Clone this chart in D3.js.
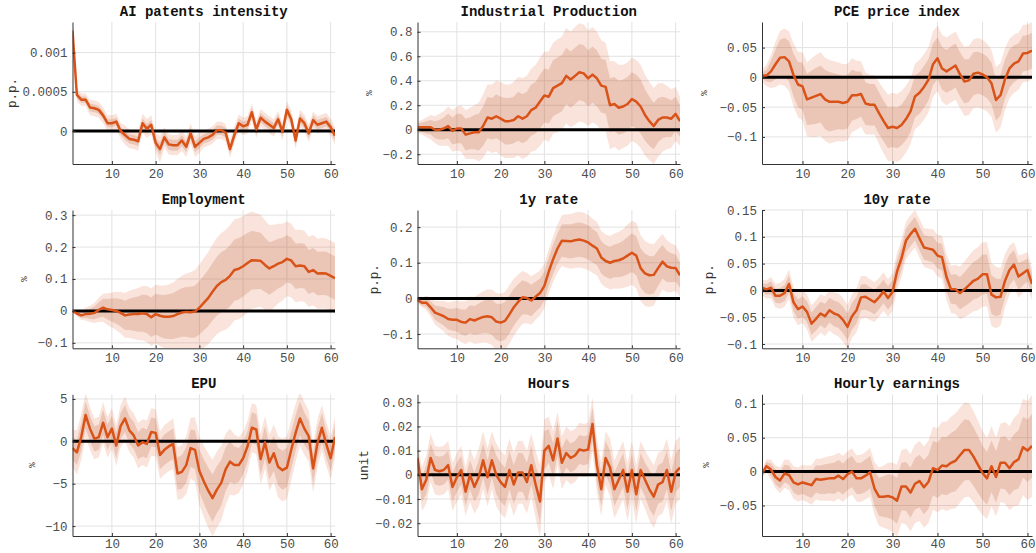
<!DOCTYPE html>
<html lang="en">
<head>
<meta charset="UTF-8">
<title>Impulse responses</title>
<script src="https://cdn.jsdelivr.net/npm/d3@7"></script>
<style>
  body { margin: 0; background: #fff; }
  svg { display: block; }
  .tick text { font-family: "Liberation Mono", "Courier New", monospace; font-size: 12.5px; fill: #4d4d4d; }
  .tick line { stroke: #333; }
  .domain { stroke: #333; }
  .title { font-family: "Liberation Mono", "Courier New", monospace; font-weight: bold; font-size: 14px; fill: #111; }
  .ylab { font-family: "Liberation Mono", "Courier New", monospace; fill: #333; }
</style>
</head>
<body>
<svg id="chart" width="1036" height="553"></svg>
<script>
// horizons (months after the shock)
const horizons = d3.range(1, 62);

const titles = ["AI patents intensity", "Industrial Production", "PCE price index",
                "Employment", "1y rate", "10y rate",
                "EPU", "Hours", "Hourly earnings"];
const units = ["p.p.", "%", "%", "%", "p.p.", "p.p.", "%", "unit", "%"];

// point estimates
const irfAI = [0.00128,0.00046,0.00040,0.00040,0.00030,0.00029,0.00027,0.00020,0.00010,0.00010,
  0.00012,0.00000,-0.00005,-0.00010,-0.00011,-0.00013,0.00010,0.00003,0.00008,-0.00015,
  -0.00023,-0.00008,-0.00017,-0.00018,-0.00018,-0.00012,-0.00020,-0.00003,-0.00020,-0.00015,
  -0.00010,-0.00008,-0.00005,0.00001,0.00001,-0.00002,-0.00023,-0.00005,0.00010,0.00006,
  0.00008,0.00024,0.00002,0.00017,0.00012,0.00008,0.00004,0.00015,-0.00001,0.00027,
  0.00015,-0.00012,0.00016,0.00010,-0.00003,0.00014,0.00008,0.00010,0.00012,0.00005,-0.00006];
const irfIP = [0.02,0.02,0.02,0.02,0.00,0.00,0.01,0.03,-0.01,0.01,
  0.01,-0.04,-0.03,-0.02,-0.02,0.03,0.10,0.09,0.11,0.09,
  0.07,0.07,0.08,0.11,0.09,0.11,0.16,0.18,0.23,0.28,
  0.27,0.34,0.36,0.38,0.44,0.41,0.44,0.47,0.46,0.42,
  0.45,0.42,0.36,0.35,0.20,0.21,0.18,0.19,0.21,0.25,
  0.23,0.19,0.12,0.07,0.03,0.08,0.10,0.10,0.09,0.13,0.07];
const irfPCE = [0.003,0.003,0.010,0.022,0.033,0.034,0.027,0.004,-0.012,-0.015,
  -0.037,-0.034,-0.031,-0.028,-0.037,-0.041,-0.041,-0.041,-0.043,-0.041,
  -0.030,-0.030,-0.028,-0.044,-0.046,-0.046,-0.060,-0.073,-0.085,-0.083,
  -0.085,-0.080,-0.070,-0.057,-0.032,-0.026,-0.016,-0.004,0.022,0.032,
  0.015,0.010,0.015,0.020,0.005,-0.007,-0.005,0.006,0.008,0.005,
  0.000,-0.010,-0.038,-0.030,-0.003,0.015,0.023,0.027,0.040,0.041,0.045];
const irfEMP = [0.000,-0.008,-0.014,-0.010,-0.009,-0.006,0.003,0.010,0.005,0.003,
  0.000,-0.006,-0.014,-0.011,-0.010,-0.010,-0.007,-0.010,-0.020,-0.010,
  -0.015,-0.018,-0.018,-0.016,-0.010,-0.005,-0.003,-0.004,-0.002,0.010,
  0.025,0.040,0.060,0.078,0.090,0.097,0.110,0.128,0.132,0.140,
  0.150,0.159,0.158,0.157,0.144,0.133,0.140,0.148,0.153,0.163,
  0.158,0.140,0.142,0.140,0.122,0.128,0.117,0.118,0.117,0.110,0.103];
const irf1Y = [-0.005,-0.012,-0.012,-0.025,-0.040,-0.045,-0.050,-0.058,-0.060,-0.060,
  -0.066,-0.068,-0.058,-0.062,-0.057,-0.052,-0.050,-0.053,-0.065,-0.068,
  -0.063,-0.045,-0.025,-0.010,0.003,0.001,-0.006,0.005,0.015,0.035,
  0.075,0.110,0.140,0.162,0.161,0.160,0.163,0.165,0.162,0.157,
  0.148,0.140,0.115,0.105,0.100,0.105,0.107,0.112,0.120,0.128,
  0.120,0.085,0.070,0.065,0.066,0.085,0.103,0.090,0.086,0.085,0.065];
const irf10Y = [0.005,0.002,0.005,-0.010,-0.010,-0.005,0.012,-0.022,-0.035,-0.030,
  -0.040,-0.062,-0.053,-0.043,-0.048,-0.037,-0.043,-0.046,-0.055,-0.068,
  -0.048,-0.037,-0.013,-0.012,-0.017,-0.022,-0.013,-0.002,-0.014,-0.003,
  0.035,0.060,0.093,0.105,0.115,0.097,0.080,0.078,0.076,0.065,
  0.062,0.025,0.002,0.002,-0.005,0.002,0.010,0.018,0.022,0.030,
  0.030,-0.008,-0.013,-0.012,0.018,0.038,0.048,0.026,0.032,0.038,0.012];
const irfEPU = [-0.8,-1.3,0.5,3.1,1.5,0.3,0.5,2.2,0.5,1.5,
  -0.5,1.8,2.7,1.3,0.7,-0.5,-0.1,-0.3,1.1,1.0,
  -1.6,-1.0,-0.6,-0.3,-3.8,-3.6,-2.8,-0.8,-1.0,-3.5,
  -4.7,-5.8,-6.7,-5.7,-4.9,-3.3,-2.4,-2.8,-2.8,-2.0,
  -0.6,1.6,1.4,-2.1,-0.1,-2.5,-1.4,-3.0,-3.4,-3.1,
  -1.0,1.0,2.7,1.5,0.6,-3.2,-0.2,1.6,-0.3,-2.0,0.5];
const irfHRS = [0.007,-0.006,-0.002,0.007,0.002,0.0015,0.002,0.004,-0.005,-0.001,
  0.002,-0.007,0.000,-0.005,-0.001,0.006,-0.001,0.006,0.000,-0.003,
  -0.005,0.002,-0.004,0.001,0.001,-0.003,0.004,-0.004,-0.011,0.010,
  0.012,0.006,0.015,0.005,0.009,0.007,0.008,0.0105,0.010,0.0105,
  0.021,0.004,-0.006,0.007,0.003,-0.006,-0.002,0.002,-0.007,0.002,
  -0.008,0.002,-0.002,-0.006,-0.009,-0.004,-0.003,0.002,-0.007,0.001,0.003];
const irfHE = [-0.003,0.008,0.003,-0.008,-0.013,-0.003,-0.005,-0.016,-0.019,-0.016,
  -0.018,-0.020,-0.011,-0.012,-0.011,-0.010,-0.010,-0.006,-0.011,-0.004,
  0.000,-0.010,-0.010,-0.006,-0.001,-0.025,-0.037,-0.037,-0.036,-0.038,
  -0.043,-0.022,-0.022,-0.031,-0.018,-0.014,-0.023,-0.015,0.005,0.002,
  0.009,0.008,0.013,0.016,0.024,0.032,0.032,0.022,0.010,-0.002,
  -0.010,0.008,-0.008,0.013,0.013,0.005,0.014,0.018,0.036,0.031,0.038];

// half widths of the 68% bands
const w68AI = [0.00003,0.00004,0.00004,0.00004,0.00005,0.00005,0.00005,0.00005,0.00005,0.00005,
  0.00005,0.00005,0.00006,0.00006,0.00006,0.00006,0.00006,0.00006,0.00006,0.00006,
  0.00008,0.00007,0.00007,0.00007,0.00007,0.00007,0.00007,0.00007,0.00007,0.00007,
  0.00006,0.00006,0.00006,0.00006,0.00006,0.00006,0.00006,0.00006,0.00006,0.00006,
  0.00006,0.00006,0.00006,0.00006,0.00006,0.00006,0.00006,0.00006,0.00006,0.00006,
  0.00006,0.00006,0.00006,0.00006,0.00006,0.00006,0.00006,0.00006,0.00006,0.00006,0.00006];
const w68IP = [0.03,0.04,0.05,0.06,0.07,0.08,0.09,0.10,0.11,0.12,
  0.12,0.13,0.13,0.14,0.15,0.16,0.17,0.17,0.18,0.18,
  0.19,0.19,0.19,0.20,0.20,0.20,0.21,0.21,0.22,0.22,
  0.22,0.23,0.23,0.23,0.23,0.23,0.23,0.23,0.23,0.23,
  0.23,0.23,0.22,0.22,0.22,0.22,0.22,0.22,0.22,0.22,
  0.22,0.22,0.21,0.20,0.19,0.18,0.17,0.16,0.15,0.14,0.13];
const w68PCE = [0.005,0.010,0.018,0.025,0.030,0.032,0.034,0.036,0.038,0.040,
  0.043,0.045,0.047,0.048,0.050,0.050,0.048,0.046,0.045,0.045,
  0.043,0.040,0.038,0.036,0.035,0.035,0.035,0.034,0.034,0.034,
  0.034,0.034,0.035,0.035,0.035,0.035,0.035,0.035,0.035,0.035,
  0.036,0.036,0.037,0.037,0.037,0.037,0.036,0.036,0.035,0.035,
  0.035,0.035,0.035,0.034,0.033,0.032,0.031,0.030,0.030,0.030,0.030];
const w68EMP = [0.002,0.005,0.008,0.012,0.016,0.020,0.024,0.028,0.032,0.036,
  0.040,0.043,0.046,0.049,0.052,0.055,0.058,0.060,0.062,0.064,
  0.066,0.068,0.070,0.072,0.074,0.076,0.078,0.080,0.082,0.084,
  0.086,0.088,0.090,0.092,0.094,0.095,0.096,0.096,0.096,0.095,
  0.094,0.092,0.090,0.088,0.085,0.082,0.080,0.078,0.076,0.074,
  0.072,0.071,0.070,0.070,0.069,0.069,0.068,0.068,0.068,0.068,0.068];
const w68_1Y = [0.004,0.008,0.012,0.016,0.020,0.023,0.026,0.029,0.031,0.033,
  0.035,0.037,0.039,0.041,0.043,0.045,0.047,0.049,0.051,0.052,
  0.053,0.053,0.052,0.050,0.048,0.046,0.044,0.042,0.041,0.040,
  0.040,0.041,0.043,0.045,0.047,0.048,0.048,0.048,0.048,0.048,
  0.047,0.046,0.045,0.045,0.045,0.046,0.048,0.050,0.052,0.054,
  0.055,0.055,0.055,0.054,0.052,0.050,0.047,0.044,0.041,0.038,0.035];
const w68_10Y = [0.008,0.010,0.012,0.013,0.014,0.015,0.016,0.017,0.018,0.019,
  0.020,0.021,0.022,0.022,0.023,0.023,0.024,0.024,0.025,0.025,
  0.025,0.025,0.024,0.024,0.023,0.023,0.022,0.022,0.022,0.022,
  0.022,0.022,0.022,0.022,0.022,0.022,0.023,0.023,0.024,0.024,
  0.025,0.026,0.027,0.028,0.030,0.032,0.034,0.035,0.036,0.037,
  0.037,0.036,0.035,0.033,0.031,0.029,0.027,0.025,0.023,0.021,0.019];
const w68EPU = [1.3,1.5,1.6,1.6,1.5,1.5,1.5,1.5,1.5,1.5,
  1.5,1.5,1.6,1.6,1.6,1.6,1.7,1.7,1.7,1.7,
  1.7,1.8,1.8,1.8,1.9,2.0,2.1,2.2,2.3,2.5,
  2.6,2.7,2.8,2.8,2.7,2.6,2.4,2.2,2.0,1.9,
  1.8,1.8,1.8,1.8,1.9,2.0,2.1,2.2,2.3,2.3,
  2.2,2.1,2.0,1.9,1.8,1.8,1.7,1.7,1.6,1.6,1.5];
const w68HRS = [0.004,0.005,0.006,0.006,0.006,0.006,0.006,0.006,0.006,0.006,
  0.006,0.006,0.006,0.006,0.007,0.007,0.007,0.007,0.008,0.008,
  0.008,0.008,0.008,0.008,0.008,0.008,0.008,0.008,0.009,0.008,
  0.007,0.007,0.007,0.006,0.006,0.006,0.006,0.006,0.006,0.006,
  0.007,0.007,0.007,0.007,0.007,0.007,0.007,0.007,0.007,0.007,
  0.007,0.007,0.007,0.008,0.008,0.008,0.008,0.008,0.008,0.008,0.008];
const w68HE = [0.003,0.006,0.009,0.011,0.012,0.013,0.014,0.015,0.016,0.017,
  0.018,0.019,0.020,0.021,0.022,0.022,0.023,0.023,0.023,0.023,
  0.023,0.023,0.023,0.024,0.024,0.026,0.028,0.030,0.032,0.033,
  0.034,0.035,0.036,0.037,0.038,0.039,0.040,0.040,0.040,0.041,
  0.042,0.043,0.044,0.045,0.045,0.045,0.044,0.043,0.042,0.040,
  0.039,0.038,0.038,0.038,0.039,0.040,0.041,0.043,0.045,0.046,0.047];

// half widths of the 90% bands
const w90AI = [0.00006,0.00008,0.00008,0.00008,0.00010,0.00010,0.00010,0.00010,0.00010,0.00010,
  0.00010,0.00010,0.00012,0.00012,0.00012,0.00012,0.00012,0.00012,0.00012,0.00012,
  0.00017,0.00013,0.00013,0.00013,0.00013,0.00013,0.00013,0.00013,0.00013,0.00013,
  0.00011,0.00011,0.00011,0.00011,0.00011,0.00011,0.00011,0.00011,0.00011,0.00011,
  0.00011,0.00011,0.00011,0.00011,0.00011,0.00011,0.00011,0.00011,0.00011,0.00011,
  0.00011,0.00011,0.00011,0.00011,0.00011,0.00011,0.00011,0.00011,0.00011,0.00011,0.00011];
const w90IP = [0.05,0.06,0.08,0.10,0.11,0.13,0.14,0.16,0.17,0.18,
  0.19,0.20,0.21,0.22,0.24,0.26,0.27,0.28,0.29,0.30,
  0.30,0.30,0.31,0.32,0.33,0.33,0.34,0.35,0.36,0.36,
  0.37,0.37,0.38,0.38,0.39,0.39,0.40,0.40,0.40,0.39,
  0.39,0.38,0.37,0.36,0.36,0.35,0.35,0.34,0.34,0.34,
  0.34,0.34,0.33,0.32,0.31,0.30,0.28,0.26,0.24,0.22,0.20];
const w90PCE = [0.010,0.018,0.028,0.038,0.045,0.048,0.050,0.053,0.055,0.057,
  0.062,0.066,0.069,0.070,0.070,0.070,0.068,0.066,0.065,0.064,
  0.062,0.058,0.055,0.052,0.050,0.050,0.052,0.054,0.056,0.057,
  0.057,0.057,0.056,0.055,0.055,0.055,0.055,0.055,0.055,0.055,
  0.056,0.057,0.057,0.057,0.057,0.058,0.058,0.058,0.058,0.058,
  0.057,0.056,0.055,0.054,0.052,0.050,0.049,0.048,0.048,0.048,0.048];
const w90EMP = [0.004,0.009,0.014,0.020,0.026,0.032,0.038,0.044,0.050,0.055,
  0.060,0.065,0.070,0.074,0.078,0.082,0.085,0.088,0.090,0.092,
  0.095,0.098,0.101,0.105,0.110,0.115,0.120,0.125,0.130,0.135,
  0.140,0.144,0.148,0.151,0.154,0.156,0.158,0.158,0.158,0.157,
  0.155,0.152,0.148,0.144,0.140,0.135,0.130,0.125,0.120,0.117,
  0.115,0.113,0.112,0.111,0.110,0.110,0.110,0.110,0.110,0.110,0.110];
const w90_1Y = [0.007,0.013,0.020,0.027,0.033,0.038,0.043,0.047,0.051,0.054,
  0.057,0.060,0.063,0.066,0.069,0.072,0.075,0.078,0.080,0.081,
  0.082,0.082,0.080,0.077,0.074,0.071,0.068,0.065,0.063,0.062,
  0.062,0.064,0.067,0.071,0.075,0.077,0.078,0.078,0.078,0.077,
  0.076,0.075,0.074,0.074,0.075,0.077,0.080,0.083,0.087,0.090,
  0.092,0.092,0.091,0.089,0.086,0.082,0.078,0.073,0.068,0.064,0.060];
const w90_10Y = [0.014,0.017,0.020,0.022,0.024,0.026,0.027,0.029,0.030,0.031,
  0.033,0.034,0.035,0.036,0.037,0.038,0.039,0.040,0.041,0.041,
  0.041,0.041,0.040,0.039,0.038,0.037,0.036,0.036,0.035,0.035,
  0.035,0.035,0.035,0.035,0.035,0.036,0.036,0.037,0.038,0.039,
  0.040,0.042,0.044,0.046,0.049,0.052,0.055,0.057,0.059,0.060,
  0.060,0.059,0.057,0.054,0.050,0.046,0.042,0.039,0.036,0.033,0.030];
const w90EPU = [2.2,2.6,2.7,2.6,2.5,2.4,2.4,2.4,2.4,2.4,
  2.4,2.5,2.6,2.6,2.6,2.7,2.7,2.8,2.8,2.8,
  2.8,2.9,2.9,3.0,3.1,3.2,3.4,3.6,3.8,4.0,
  4.2,4.4,4.5,4.5,4.4,4.2,3.9,3.6,3.3,3.1,
  3.0,2.9,2.9,3.0,3.1,3.3,3.4,3.6,3.7,3.7,
  3.6,3.4,3.2,3.1,3.0,2.9,2.8,2.7,2.6,2.5,2.4];
const w90HRS = [0.007,0.009,0.010,0.010,0.010,0.010,0.010,0.010,0.010,0.010,
  0.010,0.010,0.011,0.011,0.012,0.012,0.012,0.012,0.013,0.013,
  0.013,0.013,0.013,0.013,0.013,0.013,0.013,0.014,0.015,0.013,
  0.012,0.012,0.011,0.011,0.011,0.011,0.011,0.011,0.011,0.011,
  0.011,0.011,0.011,0.011,0.012,0.012,0.012,0.012,0.012,0.012,
  0.012,0.012,0.012,0.013,0.013,0.013,0.013,0.013,0.013,0.013,0.013];
const w90HE = [0.006,0.010,0.015,0.017,0.019,0.021,0.022,0.024,0.025,0.026,
  0.027,0.029,0.030,0.031,0.032,0.033,0.034,0.034,0.034,0.034,
  0.034,0.034,0.035,0.035,0.036,0.039,0.043,0.046,0.049,0.051,
  0.053,0.054,0.056,0.057,0.058,0.059,0.060,0.061,0.061,0.062,
  0.064,0.066,0.068,0.070,0.070,0.070,0.069,0.067,0.065,0.062,
  0.060,0.059,0.058,0.058,0.060,0.062,0.065,0.068,0.071,0.073,0.075];

// axis limits and tick values
const yLimits = [[-0.00042, 0.00139], [-0.28, 0.88], [-0.1455, 0.093],
                 [-0.117, 0.316], [-0.14, 0.248], [-0.108, 0.15],
                 [-11.17, 5.55], [-0.0253, 0.0333], [-0.095, 0.114]];
const yTicks = [[0, 0.0005, 0.001], [-0.2, 0, 0.2, 0.4, 0.6, 0.8], [-0.1, -0.05, 0, 0.05],
                [-0.1, 0, 0.1, 0.2, 0.3], [-0.1, 0, 0.1, 0.2], [-0.1, -0.05, 0, 0.05, 0.1, 0.15],
                [-10, -5, 0, 5], [-0.02, -0.01, 0, 0.01, 0.02, 0.03], [-0.05, 0, 0.05, 0.1]];
const xTicks = [10, 20, 30, 40, 50, 60];

const irfs = [irfAI, irfIP, irfPCE, irfEMP, irf1Y, irf10Y, irfEPU, irfHRS, irfHE];
const w68s = [w68AI, w68IP, w68PCE, w68EMP, w68_1Y, w68_10Y, w68EPU, w68HRS, w68HE];
const w90s = [w90AI, w90IP, w90PCE, w90EMP, w90_1Y, w90_10Y, w90EPU, w90HRS, w90HE];

// layout of the 3x3 grid (pixel extents of each axes box)
const colX = [[72.5, 335], [417.5, 680], [762, 1032]];
const rowY = [[22, 164], [210, 348.3], [394.3, 536]];
const xPad = [5, 5, 3.5];
const ylabOffset = [59.5, 47.5, 57, 47.5, 42.5, 52, 39.5, 52.5, 55];

const orange = "#d95319";
const svg = d3.select("#chart");
const fmt = d => d === 0 ? "0" : String(+d.toPrecision(6)).replace("-", "\u2212");

titles.forEach((title, i) => {
  const col = i % 3, row = Math.floor(i / 3);
  const [x0, x1] = colX[col], [y0, y1] = rowY[row];

  const x = d3.scaleLinear().domain([1, 61]).range([x0, x1]);
  const y = d3.scaleLinear().domain(yLimits[i]).range([y1, y0]);

  const rows = horizons.map((h, k) => ({
    h: h, m: irfs[i][k], a: w68s[i][k], b: w90s[i][k]
  }));

  const g = svg.append("g");

  svg.append("clipPath").attr("id", "clip" + i)
     .append("rect").attr("x", x0).attr("y", y0)
     .attr("width", x1 - x0).attr("height", y1 - y0);

  // grid
  g.selectAll(".gx").data(xTicks).enter().append("line")
   .attr("x1", d => x(d)).attr("x2", d => x(d))
   .attr("y1", y0).attr("y2", y1)
   .attr("stroke", "#e2e2e2").attr("stroke-width", 1);
  g.selectAll(".gy").data(yTicks[i]).enter().append("line")
   .attr("x1", x0).attr("x2", x1)
   .attr("y1", d => y(d)).attr("y2", d => y(d))
   .attr("stroke", "#e2e2e2").attr("stroke-width", 1);

  const plot = g.append("g").attr("clip-path", "url(#clip" + i + ")");

  // 90% and 68% bands
  plot.append("path").datum(rows)
      .attr("d", d3.area().x(d => x(d.h)).y0(d => y(d.m - d.b)).y1(d => y(d.m + d.b)))
      .attr("fill", orange).attr("fill-opacity", 0.16);
  plot.append("path").datum(rows)
      .attr("d", d3.area().x(d => x(d.h)).y0(d => y(d.m - d.a)).y1(d => y(d.m + d.a)))
      .attr("fill", "#b4532e").attr("fill-opacity", 0.2);

  // zero line
  plot.append("line")
      .attr("x1", x0).attr("x2", x1)
      .attr("y1", y(0)).attr("y2", y(0))
      .attr("stroke", "#000").attr("stroke-width", 3);

  // point estimate
  plot.append("path").datum(rows)
      .attr("d", d3.line().x(d => x(d.h)).y(d => y(d.m)))
      .attr("fill", "none").attr("stroke", orange)
      .attr("stroke-width", 2.5).attr("stroke-linejoin", "round");

  // axes
  g.append("g").attr("transform", `translate(${x0},0)`)
   .call(d3.axisLeft(y).tickValues(yTicks[i]).tickFormat(fmt)
           .tickSize(-3).tickSizeOuter(0).tickPadding(5));
  g.append("g").attr("transform", `translate(0,${y1})`)
   .call(d3.axisBottom(x).tickValues(xTicks).tickFormat(d3.format("d"))
           .tickSize(-3).tickSizeOuter(0).tickPadding(xPad[row]));

  // title
  g.append("text").attr("class", "title")
   .attr("x", (x0 + x1) / 2).attr("y", y0 - 6)
   .attr("text-anchor", "middle")
   .text(title);

  // unit label
  const small = units[i] === "%";
  g.append("text").attr("class", "ylab")
   .attr("transform", `translate(${x0 - ylabOffset[i]},${(y0 + y1) / 2}) rotate(-90)`)
   .attr("text-anchor", "middle").attr("dominant-baseline", "middle")
   .style("font-size", small ? "9px" : "12.5px")
   .text(units[i]);
});
</script>
</body>
</html>
